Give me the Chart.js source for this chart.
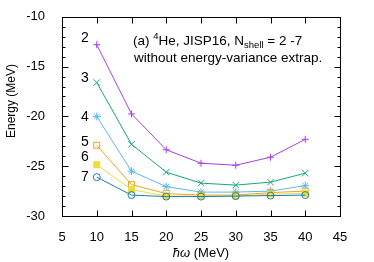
<!DOCTYPE html>
<html>
<head>
<meta charset="utf-8">
<script src="https://cdn.jsdelivr.net/npm/chart.js@4"></script>
<style>
  body { margin: 0; background: #fff; }
  canvas { display: block; }
</style>
</head>
<body>
<canvas id="energy-chart" width="374" height="262"></canvas>
<script>
const hw = [10, 15, 20, 25, 30, 35, 40];
const nshell2 = [-12.8, -19.75, -23.35, -24.7, -24.9, -24.1, -22.3];
const nshell3 = [-16.6, -22.8, -25.6, -26.7, -26.9, -26.6, -25.7];
const nshell4 = [-20.0, -25.5, -27.05, -27.6, -27.6, -27.5, -26.95];
const nshell5 = [-22.9, -26.85, -27.75, -27.9, -27.9, -27.65, -27.5];
const nshell6 = [-24.85, -27.35, -28.0, -28.0, -28.0, -27.8, -27.75];
const nshell7 = [-26.1, -27.9, -28.05, -28.05, -28.0, -27.95, -27.9];
const shellNames = ["2", "3", "4", "5", "6", "7"];
const xTicks = [5, 10, 15, 20, 25, 30, 35, 40, 45];
const yTicks = [-30, -25, -20, -15, -10];

const FONT = '"Liberation Sans", Arial, sans-serif';

const series = [nshell2, nshell3, nshell4, nshell5, nshell6, nshell7];
const colors = ["#a93ee6", "#1aa37c", "#5cb8ec", "#e9a422", "#f0dc3a", "#1a7cb8"];
const styles = ["cross", "crossRot", "star", "rect", "rect", "circle"];
const radii = [3.5, 4.5, 4, 4.2, 4.2, 3.5];
const filled = [false, false, false, false, true, false];
// where the Nshell numbers sit, in MeV on the y axis
const nameY = [-12.5, -16.5, -20.5, -23.0, -24.45, -26.45];

const ctx = document.getElementById("energy-chart").getContext("2d");

new Chart(ctx, {
  type: "line",
  data: {
    datasets: series.map((vals, i) => ({
      label: "Nshell " + shellNames[i],
      data: hw.map((x, j) => ({ x: x, y: vals[j] })),
      borderColor: colors[i],
      borderWidth: 1,
      tension: 0,
      pointStyle: styles[i],
      pointRadius: radii[i],
      pointBorderWidth: 1,
      pointBorderColor: colors[i],
      pointBackgroundColor: filled[i] ? colors[i] : "rgba(0,0,0,0)",
      order: -i,
    })),
  },
  options: {
    responsive: false,
    animation: false,
    layout: { padding: { left: 0, top: 16, right: 34, bottom: 0 } },
    scales: {
      x: {
        type: "linear",
        min: 5,
        max: 45,
        afterFit: (scale) => { scale.height = 46; },
        afterBuildTicks: (scale) => { scale.ticks = xTicks.map((v) => ({ value: v })); },
        grid: { display: false },
        border: { display: false },
        ticks: { color: "#000", font: { family: FONT, size: 13 }, padding: 6, maxRotation: 0 },
      },
      y: {
        type: "linear",
        min: -30,
        max: -10,
        afterFit: (scale) => { scale.width = 62; },
        afterBuildTicks: (scale) => { scale.ticks = yTicks.map((v) => ({ value: v })); },
        grid: { display: false },
        border: { display: false },
        ticks: { color: "#000", font: { family: FONT, size: 13 }, padding: 9 },
      },
    },
    plugins: {
      legend: { display: false },
      tooltip: { enabled: false },
    },
  },
  plugins: [
    {
      id: "frameAndText",
      afterDraw: (chart) => {
        const c = chart.ctx;
        const xs = chart.scales.x;
        const ys = chart.scales.y;
        const a = chart.chartArea;
        const L = Math.round(a.left) + 0.5;
        const R = Math.round(a.right) + 0.5;
        const T = Math.round(a.top) + 0.5;
        const B = Math.round(a.bottom) + 0.5;

        c.save();
        c.strokeStyle = "#000";
        c.lineWidth = 1;
        c.strokeRect(L, T, R - L, B - T);

        c.beginPath();
        xTicks.forEach((v) => {
          const px = Math.round(xs.getPixelForValue(v)) + 0.5;
          c.moveTo(px, B); c.lineTo(px, B - 6);
          c.moveTo(px, T); c.lineTo(px, T + 6);
        });
        for (let v = -30; v <= -10; v++) {
          const py = Math.round(ys.getPixelForValue(v)) + 0.5;
          const len = v % 5 === 0 ? 6 : 3;
          c.moveTo(L, py); c.lineTo(L + len, py);
          c.moveTo(R, py); c.lineTo(R - len, py);
        }
        c.stroke();

        // Nshell numbers next to the first points
        c.fillStyle = "#000";
        c.textAlign = "left";
        c.textBaseline = "alphabetic";
        c.font = "14px " + FONT;
        shellNames.forEach((s, i) => {
          c.fillText(s, xs.getPixelForValue(7.75), ys.getPixelForValue(nameY[i]));
        });

        // caption
        let x = 133;
        const base = 45;
        const big = "13.5px " + FONT;
        const small = "9.5px " + FONT;
        const put = (t, f, dy) => {
          c.font = f;
          c.fillText(t, x, base + dy);
          x += c.measureText(t).width;
        };
        put("(a) ", big, 0);
        put("4", small, -6);
        put("He, JISP16, N", big, 0);
        put("shell", small, 3);
        put(" = 2 -7", big, 0);
        c.font = big;
        c.fillText("without energy-variance extrap.", 134, 62);

        // axis titles
        c.font = "italic 13px " + FONT;
        const w1 = c.measureText("ħω").width;
        c.font = "13px " + FONT;
        const w2 = c.measureText(" (MeV)").width;
        const cx = (a.left + a.right) / 2;
        let tx = cx - (w1 + w2) / 2;
        c.font = "italic 13px " + FONT;
        c.fillText("ħω", tx, 257);
        c.font = "13px " + FONT;
        c.fillText(" (MeV)", tx + w1, 257);

        c.translate(12, 101);
        c.rotate(-Math.PI / 2);
        c.textAlign = "center";
        c.textBaseline = "middle";
        c.font = "12px " + FONT;
        c.fillText("Energy (MeV)", 0, 0);
        c.restore();
      },
    },
  ],
});
</script>
</body>
</html>
